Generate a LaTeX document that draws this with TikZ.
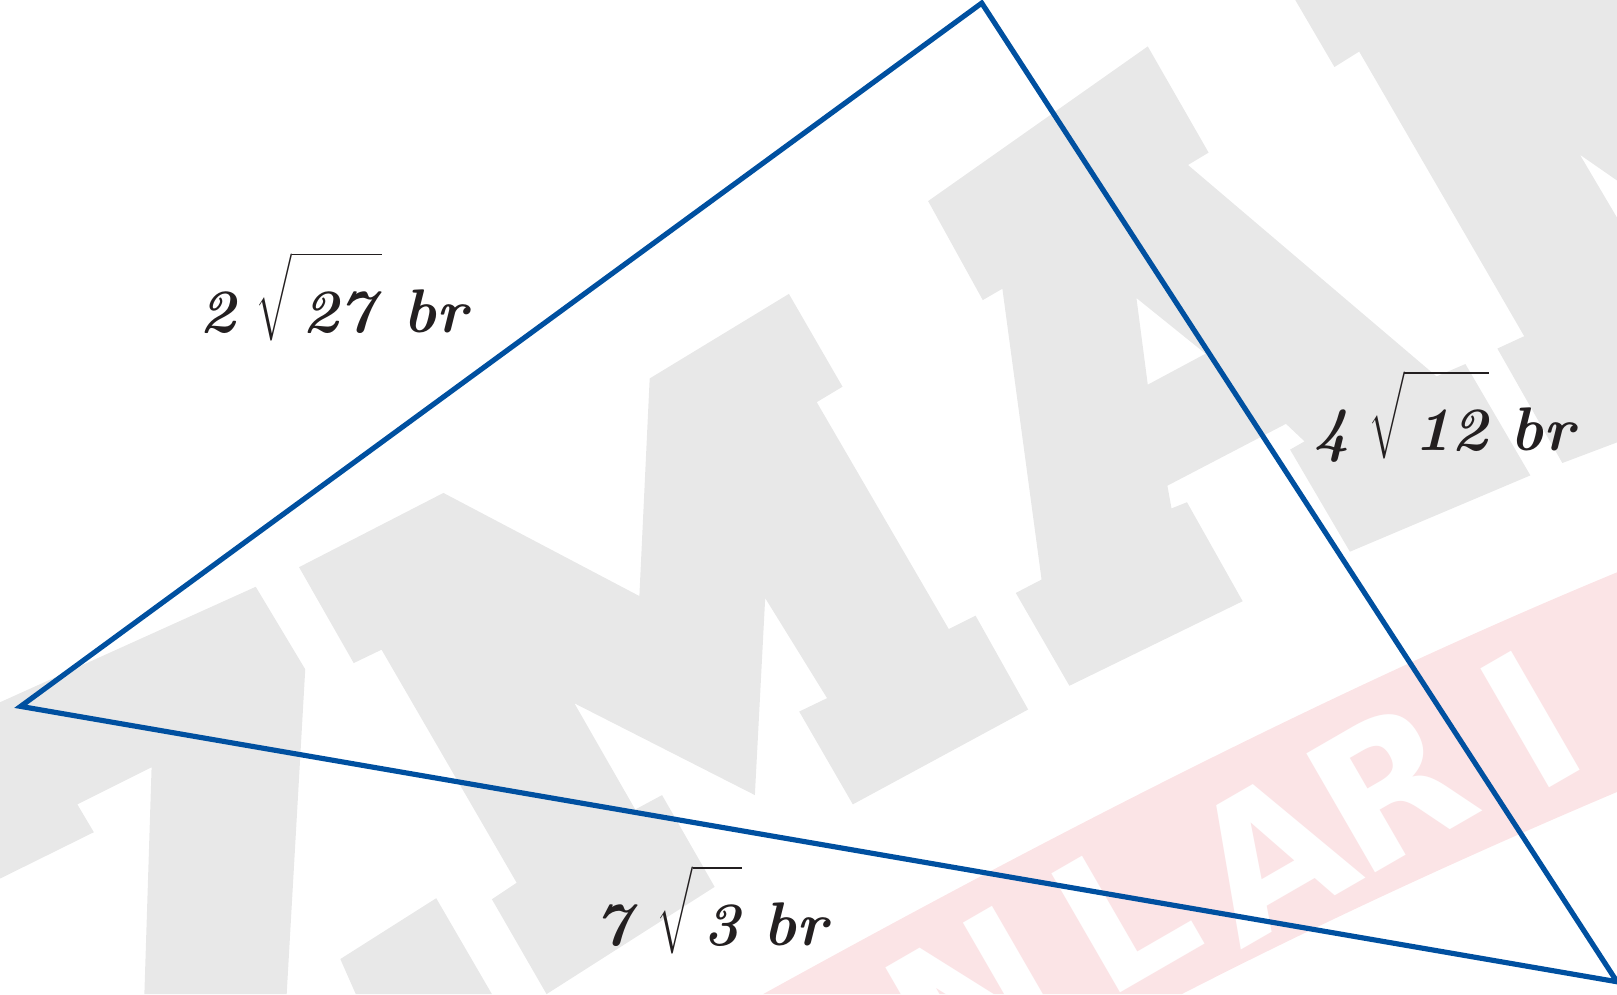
\documentclass[tikz,border=0pt]{standalone}
\usepackage{fontspec}
\usepackage{xcolor}
\usetikzlibrary{positioning}
\newfontfamily\bandfont{DejaVu Sans}
\definecolor{triblue}{RGB}{0,80,160}
\definecolor{wmgray}{RGB}{232,232,232}
\definecolor{wmpink}{RGB}{251,228,230}
\definecolor{inkblack}{RGB}{35,31,32}
\newcommand{\hw}[1]{\textbf{\textit{#1}}}
\newcommand{\hroot}[1]{$\sqrt{\rule{0pt}{1.1em}\,\hw{#1}}$}
\newcommand{\seglen}[2]{\hw{#1}\hspace{0.3em}\hroot{#2}\hspace{0.35em}\hw{br}}

\begin{document}
\begin{tikzpicture}[
        x=0.1mm, y=-0.1mm,
        side/.style={line width=0.5mm, draw=triblue, line join=miter},
        wmark/.style={fill=wmgray},
        band/.style={fill=wmpink},
        bandletter/.style={font=\bandfont\bfseries\fontsize{52}{52}\selectfont,
            text=white, rotate=30, inner sep=0pt},
        lbl/.style={font=\fontsize{17}{19}\selectfont, text=inkblack, anchor=base},
    ]
    \useasboundingbox (0,0) rectangle (1568,964);
    \clip (0,0) rectangle (1568,964);

    % watermark letters
    \fill[wmark] (0,681) -- (248,569) -- (296,649) -- (278,964) -- (140,964)
        -- (147,744) -- (75,780) -- (91,807) -- (0,852) -- cycle;
    \fill[wmark] (290,550) -- (430,478) -- (620,578) -- (630,367) -- (765,285)
        -- (817,375) -- (792,390) -- (920,610) -- (946,597) -- (997,688)
        -- (827,780) -- (775,690) -- (802,677) -- (742,580) -- (732,771)
        -- (557,682) -- (616,785) -- (642,771) -- (693,860) -- (530,964)
        -- (477,872) -- (501,856) -- (370,630) -- (343,643) -- cycle;
    \fill[wmark, even odd rule] (900,195) -- (1113,45) -- (1172,148) -- (1152,160)
        -- (1393,365) -- (1421,353) -- (1484,461) -- (1309,535) -- (1251,436)
        -- (1265,428) -- (1247,411) -- (1132,471) -- (1136,493) -- (1151,487)
        -- (1205,583) -- (1037,665) -- (985,575) -- (1010,562) -- (972,280)
        -- (953,291) -- cycle
        (1102,289) -- (1169,343) -- (1113,373) -- cycle;
    \fill[wmark] (1256,0) -- (1294,65) -- (1318,50) -- (1478,326) -- (1452,338)
        -- (1515,449) -- (1568,429) -- (1568,211) -- (1532,150) -- (1568,175)
        -- (1568,0) -- cycle;
    \fill[wmark] (330,930) -- (423,871) -- (477,964) -- (345,964) -- cycle;

    % banner
    \fill[band] (740,964) .. controls (1010,815) and (1290,670) .. (1568,555)
        -- (1568,768) .. controls (1450,818) and (1300,885) .. (1146,964) -- cycle;
    \node (bn) [bandletter] at (944,966) {N};
    \node (bl) [bandletter] at (1089,884) {L};
    \node (ba) [bandletter] at (1231,829) {A};
    \node (br) [bandletter] at (1347,762) {R};
    \node (bi) [bandletter] at (1484,698) {I};

    % triangle
    \coordinate (vtop) at (952,3);
    \coordinate (vleft) at (20,685);
    \coordinate (vright) at (1568,952);
    \draw[side] (vleft) -- (vtop) -- (vright) -- cycle;

    \node (len-left) [lbl] at (325,322) {\seglen{2}{27}};
    \node (len-right) [lbl] at (1402,437) {\seglen{4}{12}};
    \node (len-bottom) [lbl] at (691,917) {\seglen{7}{3}};
\end{tikzpicture}
\end{document}
